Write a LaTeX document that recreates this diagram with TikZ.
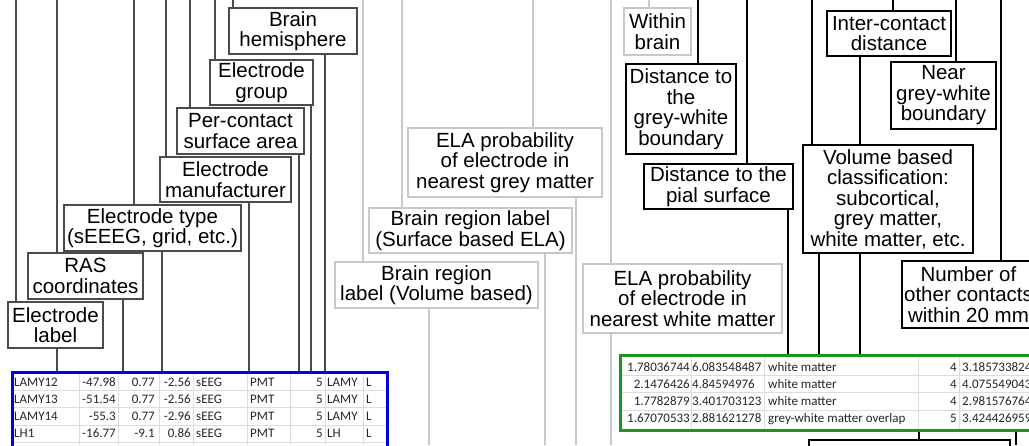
\documentclass[tikz,border=0pt]{standalone}
\usepackage{fontspec}
\setmainfont{Liberation Sans}
\newfontfamily\cellfont{Carlito}
\usetikzlibrary{backgrounds}
\definecolor{dk}{RGB}{75,75,75}
\definecolor{lt}{RGB}{200,200,200}
\definecolor{tblue}{RGB}{0,0,225}
\definecolor{tgreen}{RGB}{28,150,28}
\definecolor{gridc}{RGB}{220,220,220}
\tikzset{
  lbl/.style={font=\fontsize{20.5}{20.5}\selectfont, align=center, inner sep=0pt, fill=white},
  sz/.style 2 args={minimum width=#1pt, minimum height=#2pt},
  dkbox/.style={lbl, draw=dk, line width=1.6pt},
  ltbox/.style={lbl, draw=lt, line width=1.6pt},
  bkbox/.style={lbl, draw=black, line width=1.8pt},
  dkline/.style={draw=dk, line width=1.6pt},
  ltline/.style={draw=lt, line width=1.6pt},
  bkline/.style={draw=black, line width=1.8pt},
  sheet/.style={fill=white, inner sep=0pt, line width=3pt},
  cell/.style={font=\cellfont\fontsize{13}{14}\selectfont, text=black!85, inner sep=0pt},
  cellL/.style={cell, anchor=base west},
  cellR/.style={cell, anchor=base east},
  gridline/.style={draw=gridc, line width=0.8pt}
}
\begin{document}
\begin{tikzpicture}[x=1pt,y=-1pt]
\useasboundingbox (0,0) rectangle (1029,445);
\clip (0,0) rectangle (1029,445);
\coordinate (bot) at (0,445);

% ---- spreadsheet columns, left group
\node[dkbox, sz={128}{46}] (hemi) at (293,31) {Brain\\hemisphere};
\node[dkbox, sz={103}{45}] (group) at (261.5,82.5) {Electrode\\group};
\node[dkbox, sz={127}{46}] (percontact) at (240.5,131) {Per-contact\\surface area};
\node[dkbox, sz={131}{45}] (manuf) at (225.5,179.5) {Electrode\\manufacturer};
\node[dkbox, sz={177}{46}] (etype) at (152.5,228) {Electrode type\\(sEEEG, grid, etc.)};
\node[dkbox, sz={115}{46}] (ras) at (85.5,276) {RAS\\coordinates};
\node[dkbox, sz={95}{46}] (elabel) at (55.5,325) {Electrode\\label};

% ---- atlas columns, middle group
\node[ltbox, sz={194}{69}] (elagrey) at (505,162.5) {ELA probability\\of electrode in\\nearest grey matter};
\node[ltbox, sz={203}{45}] (surf) at (470.5,230.5) {Brain region label\\(Surface based ELA)};
\node[ltbox, sz={203}{46}] (vol) at (436.5,285) {Brain region\\label (Volume based)};
\node[ltbox, sz={199}{69}] (elawhite) at (682.5,298.5) {ELA probability\\of electrode in\\nearest white matter};
\node[ltbox, sz={67}{47}] (within) at (657.5,31.5) {Within\\brain};

% ---- derived columns, right group
\node[bkbox, sz={110}{90}] (gwdist) at (681,109) {Distance to\\the\\grey-white\\boundary};
\node[bkbox, sz={149}{45}] (pial) at (718.5,186.5) {Distance to the\\pial surface};
\node[bkbox, sz={170}{108}] (volclass) at (888,199) {Volume based\\classification:\\subcortical,\\grey matter,\\white matter, etc.};
\node[bkbox, sz={124}{45}] (inter) at (889,33.5) {Inter-contact\\distance};
\node[bkbox, sz={105}{67}] (near) at (943.5,95.5) {Near\\grey-white\\boundary};
\node[bkbox, sz={133}{67}] (number) at (968.5,294.5) {Number of\\other contacts\\within 20 mm};

% ---- left table
\node[sheet, draw=tblue, sz={375}{108}] (blue) at (199.5,426) {};
\foreach \k in {0,...,3}
  \draw[gridline] (13.5,{390.5+17.2*\k}) -- (385.5,{390.5+17.2*\k});
\foreach \x in {79,118,159,193,247,290,325,363}
  \draw[gridline] (\x,373.5) -- (\x,445);
\foreach \va/\vb/\vc/\vd/\ve/\vf/\vg/\vh/\vi [count=\k from 0] in {
  LAMY12/-47.98/0.77/-2.56/sEEG/PMT/5/LAMY/L,
  LAMY13/-51.54/0.77/-2.56/sEEG/PMT/5/LAMY/L,
  LAMY14/-55.3/0.77/-2.96/sEEG/PMT/5/LAMY/L,
  LH1/-16.77/-9.1/0.86/sEEG/PMT/5/LH/L}
{
  \node[cellL] (b\k a) at (14,{386+17.2*\k}) {\va};
  \node[cellR] (b\k b) at (116,{386+17.2*\k}) {\vb};
  \node[cellR] (b\k c) at (155,{386+17.2*\k}) {\vc};
  \node[cellR] (b\k d) at (191,{386+17.2*\k}) {\vd};
  \node[cellL] (b\k e) at (196,{386+17.2*\k}) {\ve};
  \node[cellL] (b\k f) at (250,{386+17.2*\k}) {\vf};
  \node[cellR] (b\k g) at (323,{386+17.2*\k}) {\vg};
  \node[cellL] (b\k h) at (327,{386+17.2*\k}) {\vh};
  \node[cellL] (b\k i) at (366,{386+17.2*\k}) {\vi};
}

% ---- right table
\node[sheet, draw=tgreen, sz={460}{75}] (green) at (850,392.5) {};
\foreach \k in {0,...,2}
  \draw[gridline] (621.5,{375.5+17.2*\k}) -- (1029,{375.5+17.2*\k});
\foreach \x in {691,764,918,959}
  \draw[gridline] (\x,356.5) -- (\x,428.5);
\foreach \va/\vb/\vc/\vd/\ve [count=\k from 0] in {
  1.78036744/6.083548487/white matter/4/3.185733824,
  2.1476426/4.84594976/white matter/4/4.075549043,
  1.7782879/3.401703123/white matter/4/2.981576764,
  1.67070533/2.881621278/grey-white matter overlap/5/3.424426959}
{
  \node[cellR] (g\k a) at (690,{371+17.2*\k}) {\va};
  \node[cellL] (g\k b) at (692,{371+17.2*\k}) {\vb};
  \node[cellL] (g\k c) at (768,{371+17.2*\k}) {\vc};
  \node[cellR] (g\k d) at (957,{371+17.2*\k}) {\vd};
  \node[cellL] (g\k e) at (962,{371+17.2*\k}) {\ve};
}

% ---- box below the right table
\node[fill=white, draw=black, line width=2.8pt, inner sep=0pt, sz={201}{40}] (lower) at (909.5,460) {};

% ---- connectors
\begin{pgfonlayer}{background}
  \foreach \x/\n in {16/elabel,57/ras,134/etype,166/manuf,190/percontact,215/group,233/hemi}
  { \coordinate (in\x) at (\x,0); \draw[dkline] (in\x) -- (in\x |- \n.north); }
  \foreach \x/\n in {57/elabel,123/ras,162/etype,249/manuf,299/percontact,311/group,325/hemi}
    \draw[dkline] (\n.south -| \x,0) -- (blue.north -| \x,0);

  \foreach \x/\n in {363/vol,402/surf,533/elagrey,611/elawhite,649/within}
  { \coordinate (in\x) at (\x,0); \draw[ltline] (in\x) -- (in\x |- \n.north); }
  \foreach \x/\n in {429/vol,545/surf,576/elagrey,611/elawhite}
    \draw[ltline] (\n.south -| \x,0) -- (\x,0 |- bot);

  \foreach \x/\n in {698/gwdist,747/pial,812/volclass,893/inter,956/near,1001/number}
  { \coordinate (in\x) at (\x,0); \draw[bkline] (in\x) -- (in\x |- \n.north); }
  \foreach \x/\n in {788/pial,819/volclass,860/inter}
    \draw[bkline] (\n.south -| \x,0) -- (green.north -| \x,0);
  \draw[bkline] (green.south -| 919,0) -- (lower.north -| 919,0);
  \draw[bkline] (green.south -| 1016,0) -- (1016,0 |- bot);
\end{pgfonlayer}
\end{tikzpicture}
\end{document}
